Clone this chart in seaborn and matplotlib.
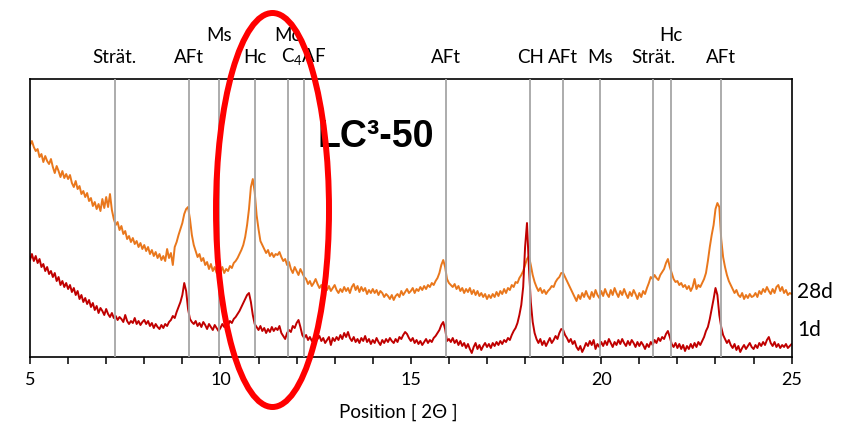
import numpy as np
import pandas as pd
import matplotlib
matplotlib.use("Agg")
import matplotlib.pyplot as plt
from matplotlib.patches import Ellipse
from matplotlib.ticker import MultipleLocator
import seaborn as sns

# Scan grid: 5-25 degrees 2-theta, 0.05 degree step
two_theta = np.round(np.arange(401) * 0.05 + 5.0, 2)

# Intensity (arb. units, offset traces) after 28 days
int_28d = [
    212, 216, 210, 206, 208, 200, 203, 195, 201, 196, 193, 198, 190, 184, 191, 186, 180, 186, 179, 183,
    178, 182, 174, 170, 176, 168, 171, 163, 166, 160, 164, 156, 159, 151, 155, 148, 153, 146, 158, 149,
    160, 150, 163, 147, 138, 132, 135, 127, 131, 123, 126, 118, 121, 115, 119, 113, 116, 110, 114, 108,
    112, 106, 110, 103, 107, 101, 105, 99, 103, 97, 101, 96, 108, 99, 104, 92, 110, 115, 122, 128,
    134, 143, 148, 150, 138, 122, 112, 106, 100, 103, 96, 99, 92, 95, 88, 93, 86, 90, 84, 88,
    85, 90, 84, 88, 86, 91, 89, 94, 96, 99, 103, 107, 112, 120, 132, 148, 170, 178, 165, 142,
    128, 116, 112, 108, 104, 107, 101, 104, 100, 103, 102, 105, 100, 96, 98, 92, 95, 88, 84, 90,
    86, 82, 88, 84, 80, 78, 73, 76, 71, 74, 78, 73, 69, 72, 66, 70, 67, 71, 66, 69,
    72, 67, 64, 68, 65, 70, 66, 69, 64, 70, 73, 67, 71, 65, 70, 66, 69, 63, 67, 64,
    68, 64, 67, 62, 66, 64, 60, 63, 61, 58, 62, 57, 61, 63, 60, 66, 62, 65, 68, 64,
    66, 69, 64, 68, 66, 70, 67, 71, 68, 72, 70, 74, 72, 76, 79, 84, 92, 97, 90, 78,
    74, 72, 70, 73, 68, 71, 66, 69, 64, 68, 65, 69, 63, 67, 62, 66, 61, 64, 60, 63,
    58, 62, 59, 63, 60, 65, 61, 66, 63, 68, 64, 69, 67, 72, 70, 75, 74, 79, 82, 86,
    92, 98, 101, 92, 82, 75, 70, 66, 69, 64, 67, 63, 66, 68, 71, 70, 75, 78, 80, 84,
    84, 80, 76, 72, 68, 64, 60, 56, 62, 58, 64, 60, 66, 61, 58, 65, 60, 67, 62, 59,
    66, 61, 68, 63, 60, 67, 62, 69, 64, 60, 66, 62, 68, 63, 59, 65, 61, 67, 63, 58,
    64, 60, 66, 63, 69, 74, 80, 78, 82, 79, 77, 82, 85, 88, 94, 98, 90, 84, 78, 75,
    76, 72, 74, 70, 72, 68, 71, 66, 70, 78, 68, 72, 70, 74, 78, 84, 96, 110, 122, 132,
    148, 154, 150, 118, 100, 90, 82, 76, 72, 68, 64, 67, 62, 60, 64, 58, 62, 59, 63, 60,
    61, 64, 60, 66, 63, 68, 65, 70, 66, 63, 68, 64, 70, 72, 66, 70, 64, 67, 62, 64,
    63,
]

# Intensity (arb. units, offset traces) after 1 day
int_1d = [
    97, 103, 96, 101, 94, 98, 90, 93, 86, 90, 83, 86, 80, 84, 76, 80, 72, 76, 70, 74,
    68, 72, 65, 69, 62, 66, 58, 62, 55, 59, 53, 57, 50, 54, 47, 51, 44, 49, 46, 42,
    48, 43, 40, 44, 39, 41, 37, 40, 38, 35, 42, 36, 33, 36, 34, 39, 33, 36, 32, 35,
    37, 33, 36, 31, 34, 29, 33, 30, 28, 32, 29, 33, 31, 35, 37, 41, 39, 45, 50, 55,
    62, 74, 66, 48, 38, 35, 33, 36, 31, 34, 30, 35, 32, 28, 33, 30, 27, 32, 29, 26,
    29, 33, 30, 34, 32, 36, 34, 38, 40, 43, 46, 50, 54, 58, 62, 64, 55, 42, 33, 30,
    27, 31, 26, 29, 24, 28, 25, 30, 26, 29, 27, 31, 24, 21, 18, 24, 27, 25, 31, 29,
    34, 37, 30, 22, 19, 22, 17, 20, 16, 19, 15, 18, 21, 16, 19, 14, 17, 20, 12, 19,
    16, 20, 17, 22, 18, 24, 20, 25, 19, 16, 20, 15, 18, 14, 19, 16, 21, 15, 18, 13,
    17, 14, 19, 15, 12, 17, 14, 18, 15, 19, 16, 14, 18, 15, 20, 18, 22, 25, 23, 19,
    16, 19, 14, 17, 13, 16, 12, 15, 18, 14, 17, 15, 19, 21, 24, 27, 32, 35, 28, 16,
    18, 15, 19, 14, 17, 12, 16, 11, 14, 9, 13, 8, 4, 10, 14, 8, 12, 7, 11, 14,
    10, 13, 9, 14, 11, 15, 12, 16, 13, 17, 15, 19, 17, 22, 26, 29, 34, 42, 52, 70,
    110, 134, 90, 55, 35, 24, 18, 14, 18, 12, 16, 11, 15, 19, 14, 17, 21, 18, 24, 28,
    27, 22, 19, 15, 18, 13, 16, 10, 7, 11, 5, 9, 14, 11, 16, 12, 17, 8, 13, 10,
    15, 11, 16, 12, 18, 14, 10, 15, 12, 17, 13, 18, 14, 11, 16, 12, 17, 14, 10, 15,
    11, 15, 12, 8, 13, 10, 15, 12, 17, 14, 19, 16, 20, 18, 23, 26, 20, 13, 10, 14,
    9, 13, 8, 12, 6, 11, 8, 13, 9, 14, 10, 15, 12, 16, 20, 26, 30, 38, 48, 58,
    69, 62, 42, 30, 22, 18, 14, 17, 12, 9, 13, 7, 11, 5, 9, 12, 8, 11, 14, 10,
    8, 12, 9, 14, 11, 15, 12, 17, 20, 14, 11, 15, 10, 13, 9, 12, 10, 13, 9, 11,
    13,
]

# Reference reflections of the hydrate / clinker phases
phase_pos = [7.22, 9.18, 9.96, 10.90, 11.77, 12.20, 15.92, 18.14, 19.00, 19.98, 21.36, 21.84, 23.15]
phase_names = ["Strät.", "AFt", "Ms", "Hc", "Mc", r"C$_\mathregular{4}$AF", "AFt", "CH",
               "AFt", "Ms", "Strät.", "Hc", "AFt"]
phase_row = [0, 0, 1, 0, 1, 0, 0, 0, 0, 0, 0, 1, 0]

series_names = ["28d", "1d"]
series_colors = ["#E9771C", "#C00000"]

df = pd.DataFrame({
    "two_theta": np.concatenate([two_theta, two_theta]),
    "intensity": np.concatenate([int_28d, int_1d]),
    "age": ["28d"] * len(two_theta) + ["1d"] * len(two_theta),
})

sns.set_style("white")
plt.rcParams["font.family"] = ["Lato", "DejaVu Sans"]
plt.rcParams["mathtext.fontset"] = "custom"
plt.rcParams["mathtext.rm"] = "Lato"
plt.rcParams["text.color"] = "black"
plt.rcParams["xtick.color"] = "black"
plt.rcParams["xtick.labelcolor"] = "black"

fig = plt.figure(figsize=(8.43, 4.25), dpi=100)
ax = fig.add_axes([0.0356, 0.16, 0.9035, 0.654])

sns.lineplot(data=df, x="two_theta", y="intensity", hue="age",
             palette=dict(zip(series_names, series_colors)), estimator=None,
             linewidth=1.4, legend=False, ax=ax, zorder=2)

for xp in phase_pos:
    ax.axvline(xp, color="#A6A6A6", linewidth=1.3, zorder=3)

label_y = [1.079, 1.155]
for xp, name, row in zip(phase_pos, phase_names, phase_row):
    ax.text(xp, label_y[row], name, transform=ax.get_xaxis_transform(),
            ha="center", va="center", fontsize=13.5, color="black", clip_on=False)

ax.set_xlim(5, 25)
ax.set_ylim(0, 278)
ax.xaxis.set_major_locator(MultipleLocator(5))
ax.xaxis.set_minor_locator(MultipleLocator(1))
ax.tick_params(axis="x", which="both", direction="out", length=5, width=1.1,
               color="black", labelcolor="black", labelsize=13, pad=6, bottom=True)
ax.tick_params(axis="y", left=False, labelleft=False)
ax.set_xlabel("")
ax.set_ylabel("")
for sp in ax.spines.values():
    sp.set_visible(True)
    sp.set_color("black")
    sp.set_linewidth(1.2)

ax.text(14.66, -0.198, "Position [ 2Θ ]", transform=ax.get_xaxis_transform(),
        ha="center", va="center", fontsize=13.5, color="black", clip_on=False)

ax.text(12.56, 0.79, "LC³-50", transform=ax.get_xaxis_transform(), ha="left", va="center",
        fontsize=27, fontweight="bold", family="Liberation Sans", color="black")

ax.text(1.007, 1 - (292 - 79) / 278, "28d", transform=ax.transAxes, ha="left", va="center",
        fontsize=15, color="black", clip_on=False)
ax.text(1.007, 1 - (330 - 79) / 278, "1d", transform=ax.transAxes, ha="left", va="center",
        fontsize=15, color="black", clip_on=False)

# Highlight around the AFm region
fig.patches.append(Ellipse((272.5 / 843, 1 - 210 / 425), 113 / 843, 394 / 425,
                           transform=fig.transFigure, fill=False, edgecolor="#FF0000",
                           linewidth=4.3, zorder=10))

fig.savefig("out.png", dpi=100)
